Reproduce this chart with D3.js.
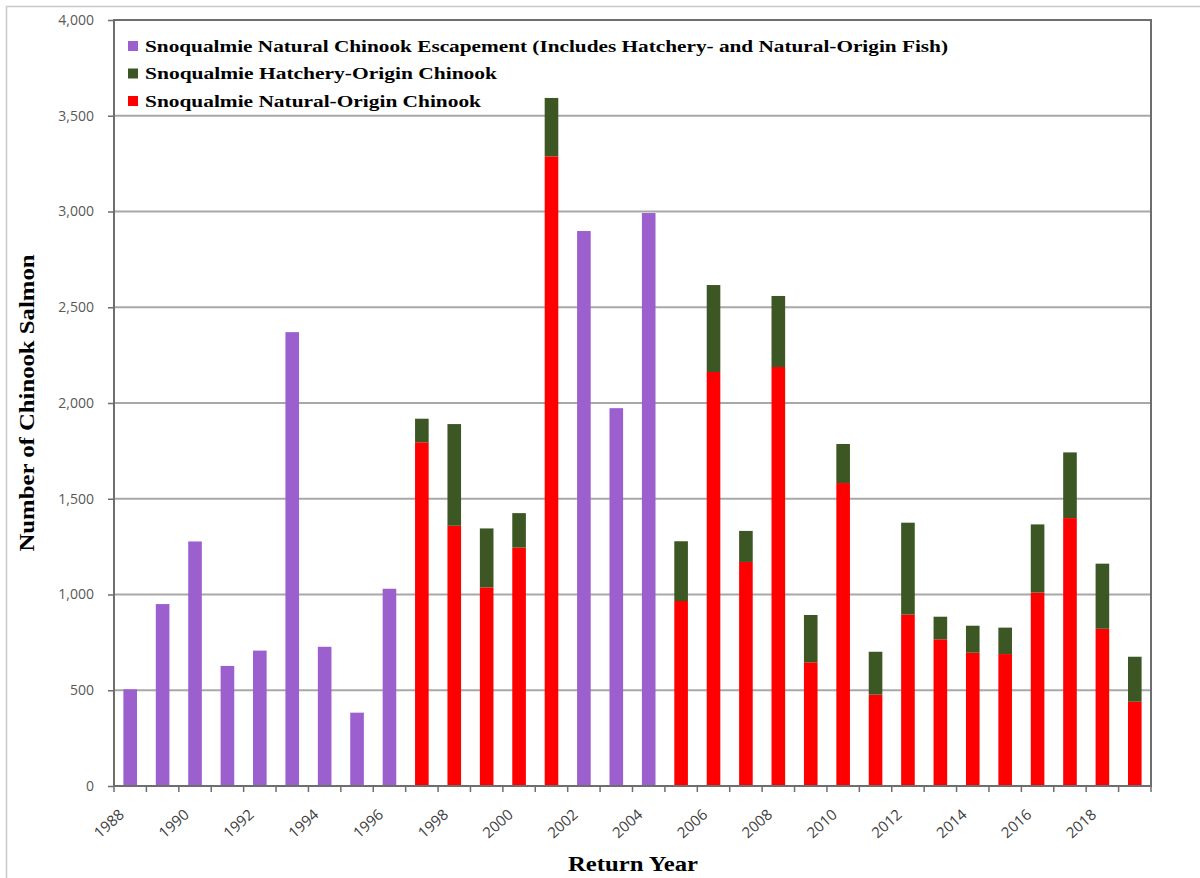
<!DOCTYPE html>
<html>
<head>
<meta charset="utf-8">
<script src="https://cdn.jsdelivr.net/npm/d3@7"></script>
<style>
body { margin: 0; background: #fff; }
</style>
</head>
<body>
<div id="chart"></div>
<script>
var years = d3.range(1988, 2020)
// escapement only (no origin split) years
var escapement = [505, 950, 1277, 627, 707, 2370, 727, 383, 1030, null, null, null, null, null, 2898, 1973, 2992,
	null, null, null, null, null, null, null, null, null, null, null, null, null, null, null]
var naturalOrigin = [null, null, null, null, null, null, null, null, null, 1795, 1359, 1037, 1245, 3288, null, null, null,
	966, 2162, 1170, 2188, 646, 1582, 477, 895, 766, 696, 689, 1010, 1399, 821, 440]
var hatcheryOrigin = [null, null, null, null, null, null, null, null, null, 123, 531, 308, 180, 305, null, null, null,
	312, 454, 162, 371, 247, 204, 224, 480, 118, 141, 138, 356, 343, 340, 235]
var yTicks = d3.range(0, 4001, 500)
var legendLabels = ['Snoqualmie Natural Chinook Escapement (Includes Hatchery- and Natural-Origin Fish)',
	'Snoqualmie Hatchery-Origin Chinook', 'Snoqualmie Natural-Origin Chinook']
var colors = ['#9c5fce', '#3c5723', '#ff0000']

var width = 1200, height = 878
var margin = {top: 20, left: 114, right: 49, bottom: 92}

var svg = d3.select('#chart').append('svg')
	.attr('width', width).attr('height', height)

// outer chart border
svg.append('rect').attr('x', 6.5).attr('y', 6.5).attr('width', 1300).attr('height', 1000)
	.attr('fill', 'none').attr('stroke', '#c8c8c8').attr('stroke-width', 1.5)

var x = d3.scaleBand().domain(years).range([margin.left, width - margin.right]).paddingInner(0.58).paddingOuter(0.29)
var y = d3.scaleLinear().domain([0, 4000]).range([height - margin.bottom, margin.top])

var x0 = margin.left, x1 = width - margin.right, y0 = y(0), y1 = y(4000)

// gridlines
svg.append('g').selectAll('line').data(yTicks.slice(1, -1)).enter().append('line')
	.attr('x1', x0).attr('x2', x1).attr('y1', d => y(d)).attr('y2', d => y(d))
	.attr('stroke', '#a8a8a8').attr('stroke-width', 1.8)

// bars
var rows = years.map((yr, i) => ({year: yr, esc: escapement[i], nat: naturalOrigin[i], hat: hatcheryOrigin[i]}))
var bars = svg.append('g')
bars.selectAll('.esc').data(rows.filter(d => d.esc != null)).enter().append('rect')
	.attr('x', d => x(d.year)).attr('width', x.bandwidth())
	.attr('y', d => y(d.esc)).attr('height', d => y(0) - y(d.esc))
	.attr('fill', colors[0])
bars.selectAll('.nat').data(rows.filter(d => d.nat != null)).enter().append('rect')
	.attr('x', d => x(d.year)).attr('width', x.bandwidth())
	.attr('y', d => y(d.nat)).attr('height', d => y(0) - y(d.nat))
	.attr('fill', colors[2])
bars.selectAll('.hat').data(rows.filter(d => d.hat != null)).enter().append('rect')
	.attr('x', d => x(d.year)).attr('width', x.bandwidth())
	.attr('y', d => y(d.nat + d.hat)).attr('height', d => y(d.nat) - y(d.nat + d.hat))
	.attr('fill', colors[1])

// plot frame
svg.append('rect').attr('x', x0).attr('y', y1).attr('width', x1 - x0).attr('height', y0 - y1)
	.attr('fill', 'none').attr('stroke', '#6e6e6e').attr('stroke-width', 2)

// y axis
var yAxis = svg.append('g').attr('transform', 'translate(' + x0 + ',0)')
	.call(d3.axisLeft(y).tickValues(yTicks).tickSize(6).tickPadding(14).tickFormat(d3.format(',')))
yAxis.select('.domain').remove()
yAxis.selectAll('line').attr('stroke', '#6e6e6e').attr('stroke-width', 1.5)
yAxis.selectAll('text').attr('fill', '#595959').style('font-family', 'Open Sans, sans-serif').style('font-size', '14px')

// x axis ticks at category boundaries
var bounds = d3.range(years.length + 1).map(i => x0 + i * (x1 - x0) / years.length)
svg.append('g').selectAll('line').data(bounds).enter().append('line')
	.attr('x1', d => d).attr('x2', d => d).attr('y1', y0).attr('y2', y0 + 6)
	.attr('stroke', '#6e6e6e').attr('stroke-width', 1.5)
svg.append('g').selectAll('text').data(years.filter(d => d % 2 == 0)).enter().append('text')
	.attr('transform', d => 'translate(' + (x(d) + x.bandwidth() / 2 - 5) + ',' + (y0 + 30) + ') rotate(-42)')
	.attr('text-anchor', 'end')
	.attr('fill', '#404040').style('font-family', 'Open Sans, sans-serif').style('font-size', '15px')
	.text(d => d)

// axis titles
svg.append('text').attr('x', 633).attr('y', 871).attr('text-anchor', 'middle')
	.attr('textLength', 130).attr('lengthAdjust', 'spacingAndGlyphs')
	.style('font-family', 'Liberation Serif, serif').style('font-weight', 'bold').style('font-size', '20px')
	.text('Return Year')
svg.append('text').attr('transform', 'translate(34,403) rotate(-90)').attr('text-anchor', 'middle')
	.attr('textLength', 297).attr('lengthAdjust', 'spacingAndGlyphs')
	.style('font-family', 'Liberation Serif, serif').style('font-weight', 'bold').style('font-size', '20px')
	.text('Number of Chinook Salmon')

// legend
var legendWidths = [803, 352, 336]
var legend = svg.append('g').selectAll('g').data(legendLabels).enter().append('g')
	.attr('transform', (d, i) => 'translate(128,' + (46 + i * 27.5) + ')')
legend.append('rect').attr('x', 0).attr('y', -5).attr('width', 10).attr('height', 10)
	.attr('fill', (d, i) => colors[i])
legend.append('text').attr('x', 17).attr('dy', '0.35em')
	.attr('textLength', (d, i) => legendWidths[i]).attr('lengthAdjust', 'spacingAndGlyphs')
	.style('font-family', 'Liberation Serif, serif').style('font-weight', 'bold').style('font-size', '17px')
	.text(d => d)
</script>
</body>
</html>
